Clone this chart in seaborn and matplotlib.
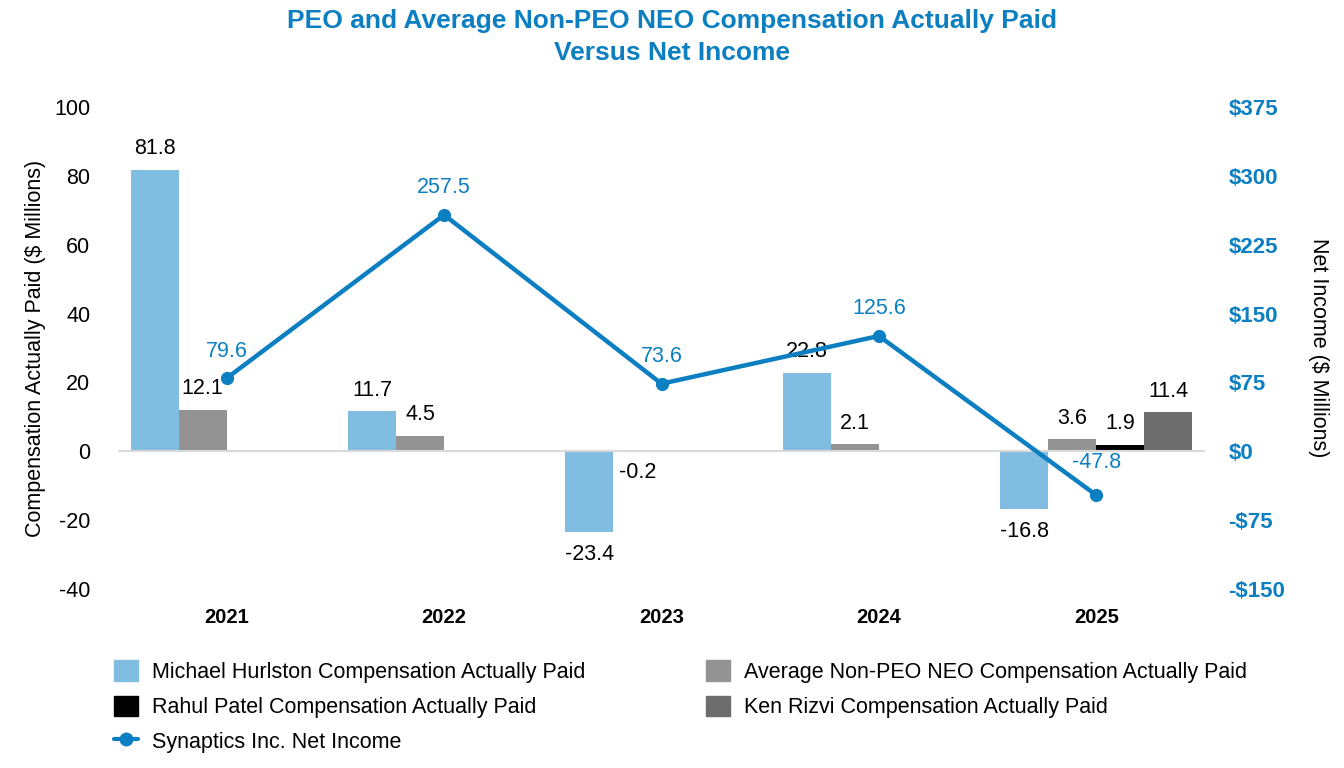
import matplotlib
matplotlib.use("Agg")
import matplotlib.pyplot as plt
import numpy as np
import pandas as pd
import seaborn as sb
from matplotlib.lines import Line2D
from matplotlib.patches import Patch

sb.set_style("white")
plt.rcParams['font.family'] = ['Liberation Sans', 'DejaVu Sans']
plt.rcParams['axes.unicode_minus'] = False
plt.rcParams['text.color'] = 'black'
plt.rcParams['axes.labelcolor'] = 'black'
plt.rcParams['xtick.color'] = 'black'
plt.rcParams['ytick.color'] = 'black'

years = ['2021', '2022', '2023', '2024', '2025']
series = ['Michael Hurlston Compensation Actually Paid',
          'Average Non-PEO NEO Compensation Actually Paid',
          'Rahul Patel Compensation Actually Paid',
          'Ken Rizvi Compensation Actually Paid']
hurlston = [81.8, 11.7, -23.4, 22.8, -16.8]
avg_neo = [12.1, 4.5, -0.2, 2.1, 3.6]
patel = [None, None, None, None, 1.9]
rizvi = [None, None, None, None, 11.4]
net_income = [79.6, 257.5, 73.6, 125.6, -47.8]

colors = ['#80bde0', '#939393', '#000000', '#6d6d6d']
blue = '#0b7fc1'
fs = 15.5

# long table for seaborn
rows = []
for name, vals in zip(series, [hurlston, avg_neo, patel, rizvi]):
    for y, v in zip(years, vals):
        if v is not None:
            rows.append({'year': y, 'series': name, 'value': v})
df = pd.DataFrame(rows)

fig = plt.figure(figsize=(13.44, 7.68), dpi=100)
ax = fig.add_axes([118/1344, 1 - 589/768, (1205-118)/1344, (589-107)/768])

sb.barplot(data=df, x='year', y='value', hue='series', order=years,
           hue_order=series, palette=colors, width=0.885, saturation=1,
           dodge=True, ax=ax, legend=False, errorbar=None, linewidth=0)

ax.set_xlim(-0.5, 4.5)
ax.set_ylim(-40, 100)
ax.set_yticks(range(-40, 101, 20))
ax.axhline(0, color='#d9d9d9', lw=1.5, zorder=1)
for s in ax.spines.values():
    s.set_visible(False)
ax.set_xlabel('')
ax.set_ylabel('Compensation Actually Paid ($ Millions)', fontsize=fs, labelpad=6)
ax.tick_params(axis='y', labelsize=fs, length=0, pad=20)
ax.tick_params(axis='x', labelsize=14.5, length=0, pad=14)
for t in ax.get_xticklabels():
    t.set_fontweight('bold')

# bar labels
for cont in ax.containers:
    for bar in cont:
        h = bar.get_height()
        if np.isnan(h):
            continue
        cx = bar.get_x() + bar.get_width() / 2
        if h >= 0:
            ax.text(cx, h + 3, f'{h:.1f}', ha='center', va='bottom', fontsize=fs)
        elif h > -2:
            ax.text(cx, h - 3, f'{h:.1f}', ha='center', va='top', fontsize=fs)
        else:
            ax.text(cx, h - 3.5, f'{h:.1f}', ha='center', va='top', fontsize=fs)

# net income line on the right axis
ax2 = ax.twinx()
sb.lineplot(x=np.arange(len(years)), y=net_income, ax=ax2, color=blue, lw=3.2,
            marker='o', markersize=9.5, markeredgewidth=0)
ax2.set_ylim(-150, 375)
ax2.set_yticks(range(-150, 376, 75))
ax2.set_yticklabels([f'${v}' if v >= 0 else f'-${-v}' for v in range(-150, 376, 75)])
ax2.tick_params(axis='y', labelsize=16, length=0, pad=17, labelcolor=blue)
for t in ax2.get_yticklabels():
    t.set_fontweight('bold')
for s in ax2.spines.values():
    s.set_visible(False)
ax2.set_ylabel('Net Income ($ Millions)', fontsize=fs, rotation=270, labelpad=31)
for i, v in enumerate(net_income):
    if v >= 0:
        ax2.text(i, v + 18, f'{v:.1f}', ha='center', va='bottom', fontsize=fs, color=blue)
    else:
        ax2.text(i, -12, f'{v:.1f}', ha='center', va='center', fontsize=fs, color=blue)

fig.suptitle('PEO and Average Non-PEO NEO Compensation Actually Paid\nVersus Net Income',
             y=0.988, fontsize=19, fontweight='bold', color=blue, linespacing=1.4)

handles = [Patch(color=colors[0]), Patch(color=colors[2]),
           Line2D([0], [0], color=blue, lw=3, marker='o', markersize=9),
           Patch(color=colors[1]), Patch(color=colors[3])]
labels = [series[0], series[2], 'Synaptics Inc. Net Income', series[1], series[3]]
fig.legend(handles, labels, ncol=2, loc='upper left', bbox_to_anchor=(95/1344, 1 - 641/768),
           frameon=False, fontsize=fs, columnspacing=5.6, handlelength=1.1,
           handleheight=1.1, handletextpad=0.65, labelspacing=0.58)

fig.savefig('out.png', dpi=100)
